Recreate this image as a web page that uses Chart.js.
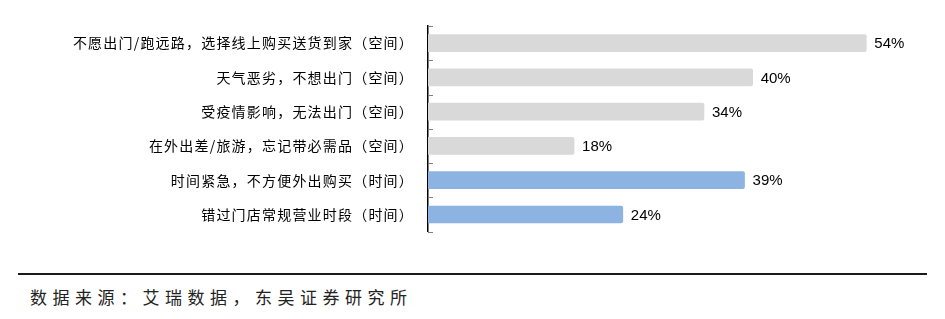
<!DOCTYPE html>
<html>
<head>
<meta charset="utf-8">
<script src="https://cdn.jsdelivr.net/npm/chart.js@4"></script>
<style>
  html, body { margin: 0; padding: 0; background: #fff; }
  #wrap { position: relative; width: 945px; height: 319px; }
  #box { position: absolute; left: 0; top: 0; width: 945px; height: 254px; }
  #rule { position: absolute; left: 18px; top: 273px; width: 909px; height: 2px; background: #1a1a1a; }
  #source { position: absolute; left: 30px; top: 284px; font: 17px "Noto Sans CJK SC", sans-serif; letter-spacing: 5.5px; color: #222; }
</style>
</head>
<body>
<div id="wrap">
  <div id="box"><canvas id="myChart"></canvas></div>
  <div id="rule"></div>
  <div id="source">数据来源：艾瑞数据，东吴证券研究所</div>
</div>
<script>
const categories = [
  '不愿出门/跑远路，选择线上购买送货到家（空间）',
  '天气恶劣，不想出门（空间）',
  '受疫情影响，无法出门（空间）',
  '在外出差/旅游，忘记带必需品（空间）',
  '时间紧急，不方便外出购买（时间）',
  '错过门店常规营业时段（时间）'
];
const values = [54, 40, 34, 18, 39, 24];
const barColors = ['#d9d9d9', '#d9d9d9', '#d9d9d9', '#d9d9d9', '#8db3e2', '#8db3e2'];

// wider spacing for the category labels, like the original
const labelSpacing = {
  id: 'labelSpacing',
  beforeDraw(chart) { chart.ctx.letterSpacing = '1.2px'; },
  beforeDatasetsDraw(chart) { chart.ctx.letterSpacing = '0px'; }
};

// value labels at the end of each bar
const valueLabels = {
  id: 'valueLabels',
  afterDatasetsDraw(chart) {
    const ctx = chart.ctx;
    const meta = chart.getDatasetMeta(0);
    ctx.save();
    ctx.letterSpacing = '0px';
    ctx.font = '15px "Liberation Sans", Arial, sans-serif';
    ctx.fillStyle = '#000';
    ctx.textBaseline = 'middle';
    meta.data.forEach((bar, i) => {
      ctx.fillText(values[i] + '%', bar.x + 8, bar.y + 1);
    });
    ctx.restore();
  }
};

// small tick marks on the inner side of the category axis
const innerTicks = {
  id: 'innerTicks',
  afterDraw(chart) {
    const ctx = chart.ctx;
    const y = chart.scales.y;
    ctx.save();
    ctx.strokeStyle = '#808080';
    ctx.lineWidth = 1;
    for (let i = 0; i <= categories.length; i++) {
      const py = Math.round(y.getPixelForValue(i - 0.5)) + 0.5;
      ctx.beginPath();
      ctx.moveTo(y.right, py);
      ctx.lineTo(y.right + 5, py);
      ctx.stroke();
    }
    ctx.restore();
  }
};

const ctx = document.getElementById('myChart').getContext('2d');
const myChart = new Chart(ctx, {
    type: 'bar',
    data: {
        labels: categories,
        datasets: [{
            data: values,
            backgroundColor: barColors,
            borderWidth: 0,
            borderRadius: 2,
            borderSkipped: 'start',
            barThickness: 17
        }]
    },
    options: {
        indexAxis: 'y',
        responsive: true,
        maintainAspectRatio: false,
        animation: false,
        layout: { padding: { top: 26, bottom: 8, right: 30, left: 0 } },
        plugins: {
            legend: { display: false },
            tooltip: { enabled: false }
        },
        scales: {
            x: { display: false, min: 0, max: 60 },
            y: {
                afterFit(scale) { scale.width = 428; },
                grid: { display: false, drawTicks: false },
                border: { display: true, color: '#000', width: 1.5 },
                ticks: {
                    padding: 14,
                    color: '#000',
                    font: { family: '"Noto Sans CJK SC", sans-serif', size: 14 }
                }
            }
        }
    },
    plugins: [labelSpacing, valueLabels, innerTicks]
});
</script>
</body>
</html>
